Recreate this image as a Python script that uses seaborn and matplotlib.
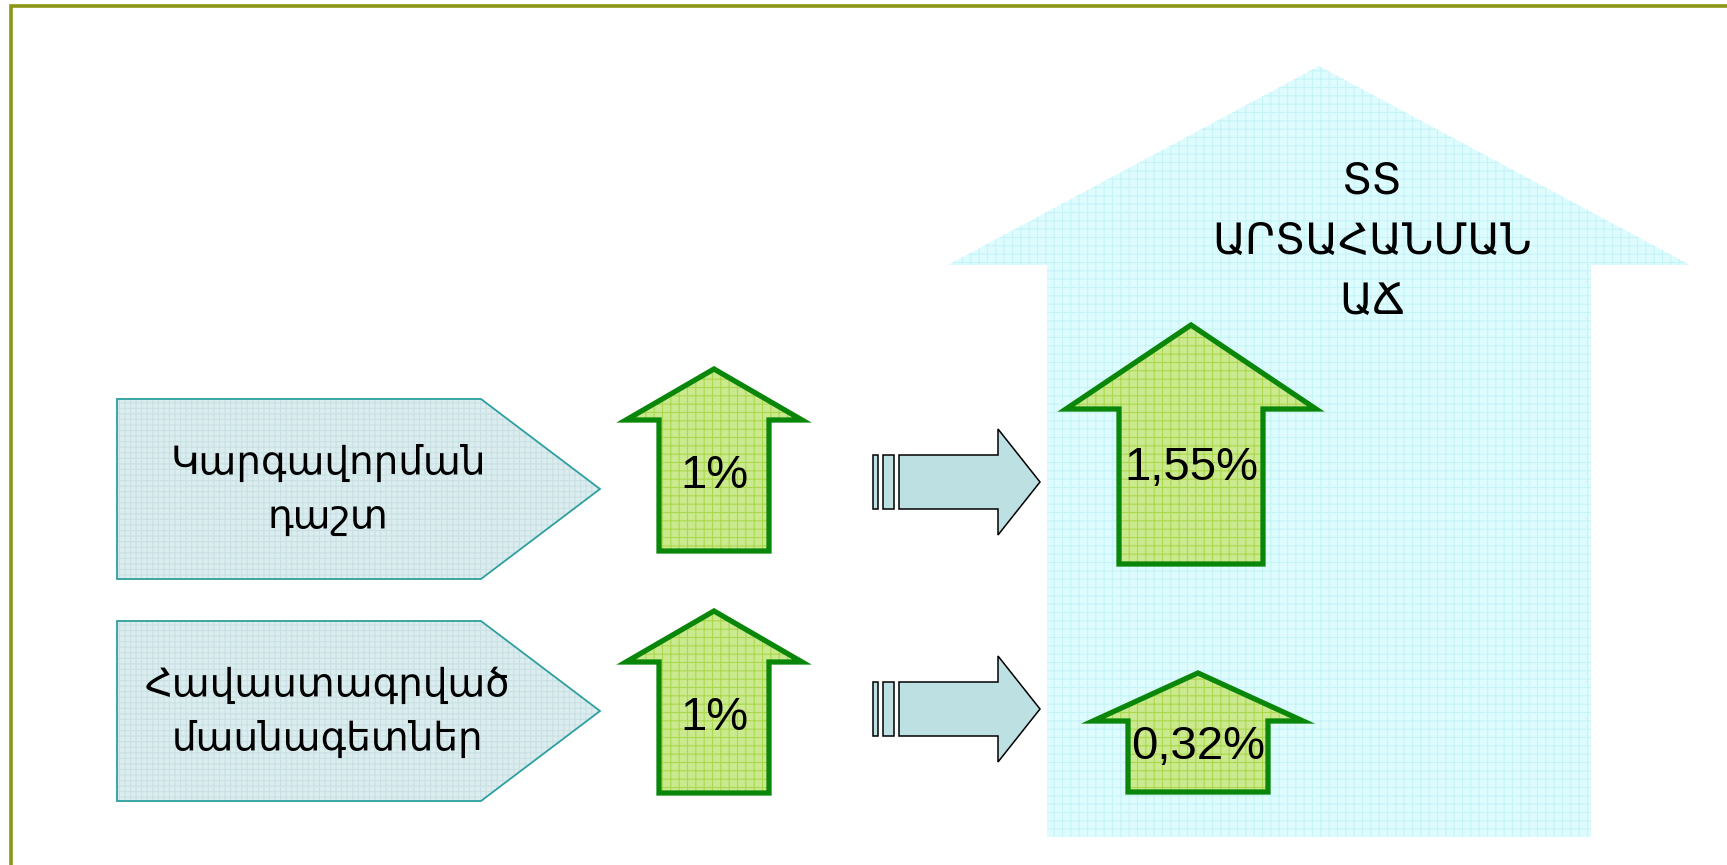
import matplotlib
matplotlib.use("Agg")
import matplotlib.pyplot as plt
from matplotlib.patches import Polygon
import seaborn as sns

# texts and values shown on the diagram
source_labels = ["Կարգավորման\nդաշտ", "Հավաստագրված\nմասնագետներ"]
source_values = ["1%", "1%"]
result_values = ["1,55%", "0,32%"]
result_title = "ՏՏ\nԱՐՏԱՀԱՆՄԱՆ\nԱՃ"

W, H = 1727, 865

sns.set_theme(style="white")
plt.rcParams["hatch.linewidth"] = 0.8
ARM_FONT = ["DejaVu Sans"]
NUM_FONT = ["Liberation Sans", "DejaVu Sans"]

GREEN_FILL = "#cbe98f"
GREEN_GRID = "#aad84c"
GREEN_EDGE = "#0a870a"


def up_arrow(cx, top, shoulder, head_hw, body_hw, bottom):
    return [(cx, top), (cx + head_hw, shoulder), (cx + body_hw, shoulder),
            (cx + body_hw, bottom), (cx - body_hw, bottom),
            (cx - body_hw, shoulder), (cx - head_hw, shoulder)]


def hatched(ax, pts, fill, grid, hatch, edge=None, lw=0, z=1):
    ax.add_patch(Polygon(pts, closed=True, facecolor=fill, edgecolor="none", zorder=z))
    ax.add_patch(Polygon(pts, closed=True, facecolor="none", edgecolor=grid,
                         hatch=hatch, linewidth=0, zorder=z + 0.1))
    if edge is not None:
        ax.add_patch(Polygon(pts, closed=True, facecolor="none", edgecolor=edge,
                             linewidth=lw, joinstyle="miter", zorder=z + 0.2))


fig = plt.figure(figsize=(W / 100, H / 100), dpi=100)
ax = fig.add_axes([0, 0, 1, 1])
ax.set_xlim(0, W)
ax.set_ylim(H, 0)
ax.axis("off")

# outer frame (only top and left visible)
ax.plot([11, 11, W + 5], [H + 5, 6, 6], color="#8c9616", lw=2.6, solid_joinstyle="miter")

# big light cyan arrow on the right
big = up_arrow(1319, 66, 265, 371, 272, 837)
hatched(ax, big, "#defcfe", "#c6f3f8", "++", z=1)
ax.text(1372, 242, result_title, ha="center", va="center", fontsize=31,
        family=ARM_FONT, linespacing=1.55, color="black", zorder=5)

for i, (label, val) in enumerate(zip(source_labels, source_values)):
    dy = i * 222
    # left pentagon
    pent = [(117, 399 + dy), (481, 399 + dy), (600, 489 + dy),
            (481, 579 + dy), (117, 579 + dy)]
    hatched(ax, pent, "#dcedef", "#c9e1e4", "+++", edge="#2f9f9f", lw=1.3, z=2)
    ax.text(328, 490 + dy, label, ha="center", va="center", fontsize=28,
            family=ARM_FONT, linespacing=1.5, color="black", zorder=5)

    # small green arrow
    dy2 = i * 242
    arr = up_arrow(714, 369 + dy2, 420 + dy2, 88, 55, 551 + dy2)
    hatched(ax, arr, GREEN_FILL, GREEN_GRID, "++", edge=GREEN_EDGE, lw=3.8, z=3)
    ax.text(714, 476 + dy2, val, ha="center", va="center", fontsize=34,
            family=NUM_FONT, color="black", zorder=5)

    # block arrow pointing right
    dy3 = i * 227
    kw = dict(closed=True, facecolor="#bde0e3", edgecolor="black", lw=1.1, zorder=3)
    ax.add_patch(Polygon([(873, 455 + dy3), (878, 455 + dy3), (878, 509 + dy3),
                          (873, 509 + dy3)], **kw))
    ax.add_patch(Polygon([(883, 455 + dy3), (894, 455 + dy3), (894, 509 + dy3),
                          (883, 509 + dy3)], **kw))
    ax.add_patch(Polygon([(899, 455 + dy3), (998, 455 + dy3), (998, 429 + dy3),
                          (1040, 482 + dy3), (998, 535 + dy3), (998, 509 + dy3),
                          (899, 509 + dy3)], **kw))

# result arrows inside the big arrow
res_geo = [(1191, 325, 409, 125, 72, 564, 468),
           (1198, 673, 721, 105, 70, 792, 747)]
for (cx, top, sh, hhw, bhw, bot, ty), val in zip(res_geo, result_values):
    arr = up_arrow(cx, top, sh, hhw, bhw, bot)
    hatched(ax, arr, GREEN_FILL, GREEN_GRID, "++", edge=GREEN_EDGE, lw=3.8, z=3)
    ax.text(cx, ty, val, ha="center", va="center", fontsize=34,
            family=NUM_FONT, color="black", zorder=5)

fig.savefig("out.png", dpi=100, facecolor="white")
